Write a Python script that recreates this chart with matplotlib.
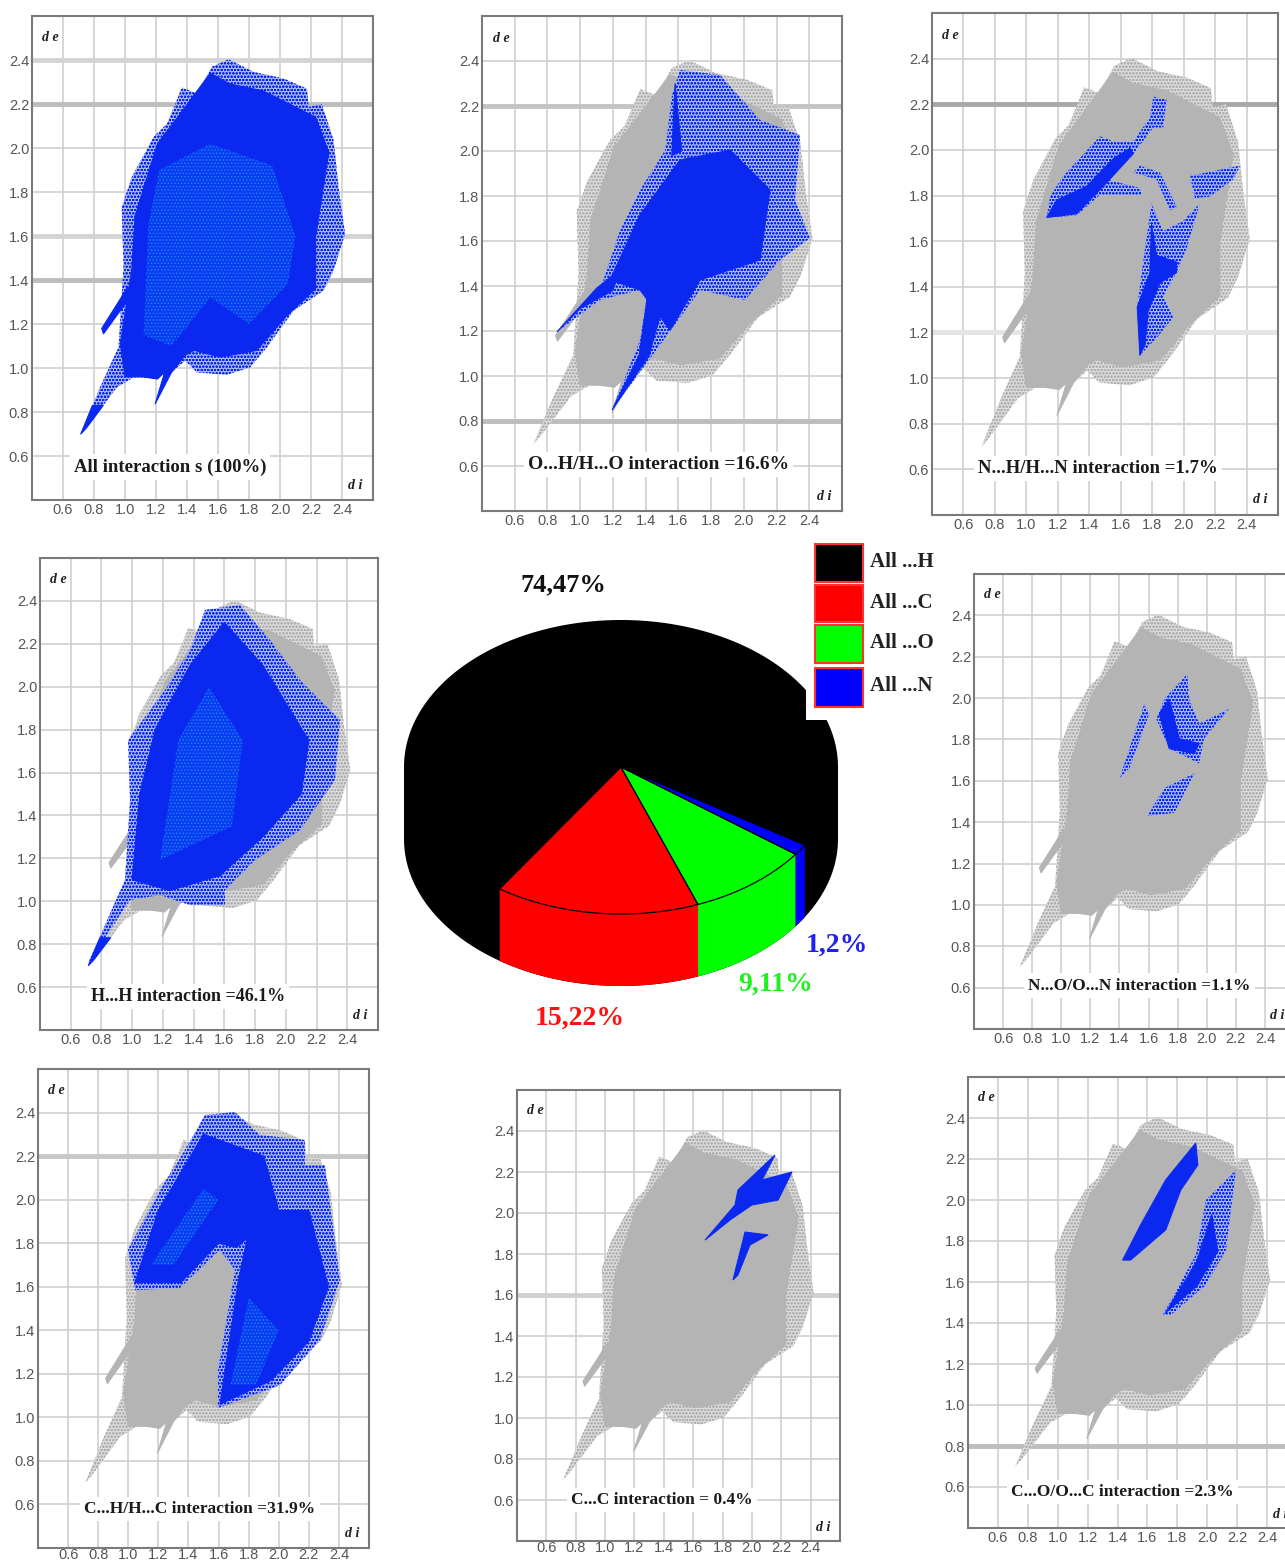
import numpy as np
import matplotlib
matplotlib.use('Agg')
import matplotlib.pyplot as plt
from matplotlib.patches import Polygon, Rectangle

plt.rcParams['hatch.linewidth'] = 0.6
NARROW = ['Liberation Sans Narrow', 'Liberation Sans', 'DejaVu Sans']
SERIF = ['Liberation Serif', 'DejaVu Serif']

W, H = 1285, 1560

TICKS = [0.6, 0.8, 1.0, 1.2, 1.4, 1.6, 1.8, 2.0, 2.2, 2.4]
TICK_LABELS = ['0.6', '0.8', '1.0', '1.2', '1.4', '1.6', '1.8', '2.0', '2.2', '2.4']

# outline of the whole fingerprint (di, de)
SILHOUETTE = [
  (0.714, 0.699), (0.839, 0.912), (0.958, 1.094), (0.99, 1.458), (0.979, 1.732), (1.044, 1.868),
  (1.184, 2.05), (1.27, 2.11), (1.334, 2.217), (1.367, 2.275), (1.464, 2.248), (1.56, 2.369),
  (1.668, 2.403), (1.83, 2.346), (2.023, 2.316), (2.174, 2.27), (2.185, 2.187), (2.27, 2.2),
  (2.346, 2.035), (2.378, 1.822), (2.42, 1.61), (2.346, 1.443), (2.282, 1.352), (2.088, 1.261),
  (1.916, 1.094), (1.808, 1.003), (1.657, 0.969), (1.464, 0.98), (1.388, 1.033), (1.313, 0.988),
  (1.205, 0.957), (1.054, 0.957), (0.947, 0.912), (0.753, 0.729),
]
SILHOUETTE_CORE = [
  (0.97, 1.11), (1.044, 1.447), (1.065, 1.69), (1.21, 2.02), (1.34, 2.14), (1.55, 2.34),
  (1.68, 2.29), (1.89, 2.26), (2.23, 2.14), (2.315, 1.98), (2.23, 1.6), (2.23, 1.36),
  (2.04, 1.235), (1.85, 1.08), (1.616, 1.05), (1.447, 1.08), (1.34, 1.04), (1.21, 0.95),
  (1.11, 0.96), (1.0, 0.96),
]
SPIKE_LEFT = [(1.02, 1.37), (0.85, 1.18), (0.861, 1.155), (1.0, 1.29), (1.04, 1.3)]
SPIKE_LOW = [(1.194, 0.836), (1.3, 0.98), (1.39, 1.06), (1.34, 1.06), (1.26, 0.99)]
TIP = [(0.714, 0.699), (0.79, 0.83), (0.86, 0.83), (0.753, 0.729)]
ALL_BRIGHT = [
  (1.12, 1.15), (1.15, 1.65), (1.22, 1.9), (1.55, 2.02), (1.95, 1.92), (2.1, 1.6), (2.05, 1.38),
  (1.8, 1.2), (1.55, 1.32), (1.3, 1.1),
]

OH_OUTER = [
  (0.858, 1.196), (1.121, 1.382), (1.244, 1.649), (1.366, 1.827), (1.519, 2.004), (1.561, 2.249),
  (1.61, 2.36), (1.855, 2.338), (2.099, 2.138), (2.344, 2.071), (2.313, 1.782), (2.405, 1.613),
  (2.222, 1.516), (2.008, 1.338), (1.733, 1.382), (1.488, 1.138), (1.195, 0.849), (1.366, 1.16),
  (1.415, 1.391), (1.121, 1.338),
]
OH_CORE = [
  (1.182, 1.427), (1.366, 1.716), (1.61, 1.96), (1.916, 2.004), (2.16, 1.827), (2.099, 1.516),
  (1.733, 1.427), (1.549, 1.204), (1.366, 1.382),
]
OH_SPIKE_A = [(0.858, 1.196), (1.1, 1.39), (1.24, 1.47), (1.2, 1.38), (1.0, 1.3)]
OH_SPIKE_B = [(1.195, 0.849), (1.36, 1.09), (1.42, 1.4), (1.52, 1.35), (1.42, 1.09)]
OH_SPIKE_C = [(1.56, 1.98), (1.58, 2.3), (1.62, 2.0)]

NH_UPPER = [
  (1.129, 1.704), (1.15, 1.795), (1.235, 1.886), (1.468, 2.06), (1.553, 2.037), (1.68, 2.037),
  (1.786, 2.143), (1.807, 2.234), (1.892, 2.219), (1.87, 2.098), (1.807, 2.098), (1.658, 1.962),
  (1.51, 1.871), (1.722, 1.833), (1.733, 1.803), (1.468, 1.803), (1.319, 1.712),
]
NH_LOWER = [
  (1.722, 1.099), (1.705, 1.311), (1.754, 1.568), (1.796, 1.765), (1.87, 1.644), (1.997, 1.689),
  (2.103, 1.765), (2.019, 1.568), (1.955, 1.462), (1.87, 1.356), (1.934, 1.266), (1.828, 1.175),
  (1.764, 1.13),
]
NH_RIGHT = [(2.04, 1.886), (2.358, 1.931), (2.315, 1.871), (2.167, 1.795), (2.072, 1.788)]
NH_ARC = [(1.722, 1.931), (1.849, 1.901), (1.955, 1.75), (1.913, 1.735), (1.828, 1.871), (1.68, 1.901)]
NH_UPPER_CORE = [
  (1.129, 1.704), (1.193, 1.78), (1.383, 1.84), (1.553, 1.962), (1.658, 2.007), (1.68, 1.984),
  (1.51, 1.856), (1.319, 1.72),
]
NH_LOWER_CORE = [
  (1.722, 1.099), (1.705, 1.311), (1.786, 1.462), (1.796, 1.674), (1.828, 1.538), (1.955, 1.508),
  (1.955, 1.462), (1.849, 1.417), (1.775, 1.296), (1.754, 1.145),
]

HH_OUTER = [
  (0.713, 0.712), (0.953, 1.099), (0.986, 1.472), (0.973, 1.752), (1.214, 1.985), (1.377, 2.171),
  (1.474, 2.358), (1.702, 2.381), (1.897, 2.218), (2.093, 2.031), (2.353, 1.845), (2.32, 1.565),
  (2.093, 1.332), (1.8, 1.192), (1.604, 1.052), (1.604, 0.982), (1.377, 0.982), (1.181, 1.029),
  (0.986, 1.006),
]
HH_CORE = [
  (1.0, 1.1), (1.05, 1.5), (1.15, 1.8), (1.377, 2.1), (1.6, 2.3), (1.85, 2.1), (2.15, 1.75),
  (2.1, 1.5), (1.85, 1.3), (1.572, 1.12), (1.246, 1.05),
]
HH_BRIGHT = [(1.181, 1.192), (1.3, 1.75), (1.5, 2.0), (1.72, 1.75), (1.65, 1.35)]

NO_LEFT = [(1.4, 1.612), (1.571, 1.972), (1.605, 1.924), (1.468, 1.66)]
NO_CENTER = [
  (1.653, 1.9), (1.708, 1.996), (1.866, 2.116), (1.879, 1.996), (1.948, 1.876), (2.153, 1.948),
  (1.982, 1.804), (1.948, 1.684), (1.742, 1.756),
]
NO_LOWER = [(1.592, 1.43), (1.708, 1.565), (1.914, 1.636), (1.777, 1.445)]
NO_CORE = [(1.674, 1.924), (1.742, 1.996), (1.811, 1.804), (1.948, 1.78), (1.914, 1.732), (1.742, 1.756)]

CH_OUTER = [
  (0.998, 1.769), (1.211, 2.044), (1.377, 2.228), (1.51, 2.389), (1.709, 2.402), (1.875, 2.297),
  (2.174, 2.274), (2.174, 2.159), (2.307, 2.159), (2.407, 1.631), (2.274, 1.355), (2.008, 1.148),
  (1.596, 1.043), (1.596, 1.217), (1.709, 1.677), (1.609, 1.769), (1.343, 1.594), (1.045, 1.585),
]
CH_CORE_UP = [(1.045, 1.62), (1.2, 1.95), (1.5, 2.3), (1.9, 2.2), (2.0, 1.95), (1.72, 1.78), (1.6, 1.8), (1.35, 1.62)]
CH_CORE_LOW = [(1.61, 1.06), (1.73, 1.62), (1.83, 1.95), (2.2, 1.95), (2.33, 1.6), (2.2, 1.35), (1.95, 1.17)]
CH_BRIGHT_UP = [(1.15, 1.7), (1.5, 2.05), (1.6, 2.0), (1.3, 1.7)]
CH_BRIGHT_LOW = [(1.68, 1.15), (1.8, 1.55), (2.0, 1.4), (1.85, 1.15)]

CC_A = [
  (1.681, 1.868), (1.885, 2.039), (1.905, 2.112), (2.157, 2.283), (2.069, 2.161), (2.273, 2.2),
  (2.178, 2.063), (2.0, 2.039), (1.851, 1.966),
]
CC_B = [(1.871, 1.673), (1.953, 1.907), (2.11, 1.893), (1.987, 1.844), (1.905, 1.698)]

CO_A = [(1.434, 1.707), (1.554, 1.878), (1.722, 2.098), (1.923, 2.278), (1.937, 2.171), (1.823, 2.049), (1.722, 1.854), (1.487, 1.707)]
CO_B = [(1.702, 1.439), (1.923, 1.732), (1.991, 2.0), (2.192, 2.146), (2.125, 1.756), (1.991, 1.585), (1.756, 1.439)]
CO_B_CORE = [(1.72, 1.45), (1.93, 1.7), (2.03, 1.93), (2.07, 1.75), (1.93, 1.58)]

# pie chart values
PIE_NAMES = ['All ...H', 'All ...C', 'All ...O', 'All ...N']
PIE_VALUES = [74.47, 15.22, 9.11, 1.2]
PIE_COLORS = ['#000000', '#ff0000', '#00ff00', '#0000ff']


def axes_px(left, top, right, bottom):
  return fig.add_axes([left / W, 1 - bottom / H, (right - left) / W, (bottom - top) / H])


def loose(ax, pts, col='#0a28f0'):
  # the open speckled part of a cloud
  ax.add_patch(Polygon(pts, closed=True, facecolor='#aab8f8', edgecolor=col, hatch='ooooo', lw=0, zorder=3))


def solid(ax, pts, col='#0a28f0'):
  ax.add_patch(Polygon(pts, closed=True, facecolor=col, edgecolor=col, lw=0.8, zorder=4))


def bright(ax, pts):
  ax.add_patch(Polygon(pts, closed=True, facecolor='#0a3cf2', edgecolor='#1a88f6', hatch='.....', lw=0, zorder=5))


def panel(box, caption, cap_xy, cap_size, thick=(), gray=True, pad=2):
  ax = axes_px(*box)
  ax.set_xlim(0.4, 2.6)
  ax.set_ylim(0.4, 2.6)
  ax.set_xticks(TICKS, TICK_LABELS)
  ax.set_yticks(TICKS, TICK_LABELS)
  ax.tick_params(length=0, labelsize=10.5, labelcolor='#555555', pad=2)
  ax.tick_params(axis='x', pad=pad)
  for lab in ax.get_xticklabels() + ax.get_yticklabels():
    lab.set_family(NARROW)
  ax.grid(color='#cfcfcf', lw=1.2, zorder=1)
  ax.set_axisbelow(True)
  for spine in ax.spines.values():
    spine.set_color('#7a7a7a')
    spine.set_linewidth(1.5)
  for val, col in thick:
    ax.axhline(val, color=col, lw=3.5, zorder=1.5)
  if gray:
    ax.add_patch(Polygon(SILHOUETTE, closed=True, facecolor='#dcdcdc', edgecolor='#b0b0b0', hatch='ooooo', lw=0, zorder=2))
    for pts in [SILHOUETTE_CORE, SPIKE_LEFT, SPIKE_LOW]:
      ax.add_patch(Polygon(pts, closed=True, facecolor='#b4b4b4', edgecolor='#b4b4b4', lw=0.8, zorder=2.5))
  ax.text(cap_xy[0], cap_xy[1], caption, ha='center', va='center', fontsize=cap_size, family=SERIF,
          weight='bold', color='#1a1a1a', zorder=8,
          bbox=dict(facecolor='white', edgecolor='none', pad=3))
  ax.text(0.03, 0.955, 'd e', transform=ax.transAxes, fontsize=10, family=SERIF, style='italic',
          weight='bold', color='#222222', va='center')
  ax.text(0.97, 0.03, 'd i', transform=ax.transAxes, fontsize=10, family=SERIF, style='italic',
          weight='bold', color='#222222', ha='right', va='center')
  return ax


fig = plt.figure(figsize=(W / 100, H / 100), dpi=100)

ax = panel((32, 16, 373, 500), 'All interaction s (100%)', (1.29, 0.55), 13.5,
           thick=[(2.4, '#d4d4d4'), (2.2, '#bdbdbd'), (1.6, '#d4d4d4'), (1.4, '#bdbdbd')], gray=False)
loose(ax, SILHOUETTE)
solid(ax, SILHOUETTE_CORE)
solid(ax, SPIKE_LEFT)
solid(ax, SPIKE_LOW)
solid(ax, TIP)
bright(ax, ALL_BRIGHT)

ax = panel((482, 16, 842, 511), 'O...H/H...O interaction =16.6%', (1.48, 0.605), 14,
           thick=[(2.2, '#c4c4c4'), (0.8, '#bdbdbd')])
loose(ax, OH_OUTER)
solid(ax, OH_CORE)
for pts in [OH_SPIKE_A, OH_SPIKE_B, OH_SPIKE_C]:
  solid(ax, pts)

ax = panel((932, 13, 1278, 515), 'N...H/H...N interaction =1.7%', (1.457, 0.604), 13.5,
           thick=[(2.2, '#a8a8a8'), (1.2, '#e4e4e4')])
for pts in [NH_UPPER, NH_LOWER, NH_RIGHT, NH_ARC]:
  loose(ax, pts)
solid(ax, NH_UPPER_CORE)
solid(ax, NH_LOWER_CORE)

ax = panel((40, 558, 378, 1030), 'H...H interaction =46.1%', (1.364, 0.555), 13)
loose(ax, HH_OUTER)
solid(ax, HH_CORE)
solid(ax, TIP)
bright(ax, HH_BRIGHT)

ax = panel((974, 574, 1294, 1029), 'N...O/O...N interaction =1.1%', (1.537, 0.61), 12.5)
for pts in [NO_LEFT, NO_CENTER, NO_LOWER]:
  loose(ax, pts)
solid(ax, NO_CORE)

ax = panel((38, 1069, 369, 1548), 'C...H/H...C interaction =31.9%', (1.476, 0.58), 12.5,
           thick=[(2.2, '#c8c8c8')], pad=0)
loose(ax, CH_OUTER)
solid(ax, CH_CORE_UP)
solid(ax, CH_CORE_LOW)
bright(ax, CH_BRIGHT_UP)
bright(ax, CH_BRIGHT_LOW)

ax = panel((517, 1090, 840, 1541), 'C...C interaction = 0.4%', (1.388, 0.6), 12.5,
           thick=[(1.6, '#d0d0d0')], pad=0)
solid(ax, CC_A)
solid(ax, CC_B)

ax = panel((968, 1077, 1297, 1528), 'C...O/O...C interaction =2.3%', (1.434, 0.575), 12.5,
           thick=[(0.8, '#bdbdbd')])
solid(ax, CO_A)
loose(ax, CO_B)
solid(ax, CO_B_CORE)

# centre pie, drawn in picture pixels
pie = fig.add_axes([0, 0, 1, 1], facecolor='none')
pie.set_xlim(0, W)
pie.set_ylim(H, 0)
pie.axis('off')

CX, CY, RX, RY, DEPTH = 621, 767, 217, 147, 72


def rim(t):
  # t in degrees, 0 at the front of the ellipse, growing to the right
  t = np.radians(t)
  return CX + RX * np.sin(t), CY + RY * np.cos(t)


x0, y0 = rim(np.linspace(0, 360, 361))
pie.add_patch(Polygon(np.c_[x0, y0], closed=True, facecolor='black', lw=0, zorder=10))
pie.add_patch(Polygon(np.c_[x0, y0 + DEPTH], closed=True, facecolor='black', lw=0, zorder=10))
pie.add_patch(Rectangle((CX - RX, CY), 2 * RX, DEPTH, facecolor='black', lw=0, zorder=10))

start = -34.0
for val, col in zip(PIE_VALUES[1:], PIE_COLORS[1:]):
  stop = start + val * 3.6
  ts = np.linspace(start, stop, 40)
  xs, ys = rim(ts)
  # side wall
  pie.add_patch(Polygon(np.r_[np.c_[xs, ys], np.c_[xs[::-1], ys[::-1] + DEPTH]], closed=True,
                        facecolor=col, lw=0, zorder=11))
  # top face
  pie.add_patch(Polygon(np.r_[[[CX, CY]], np.c_[xs, ys]], closed=True, facecolor=col,
                        edgecolor='black', lw=0.9, zorder=12))
  start = stop

# legend sits on a white block that cuts the pie corner
pie.add_patch(Rectangle((806, 535), 140, 185, facecolor='white', lw=0, zorder=13))
SWATCH_TOPS = [544, 585, 625, 668]
SWATCH_HEIGHTS = [38, 37, 38, 39]
for top, hgt, name, col in zip(SWATCH_TOPS, SWATCH_HEIGHTS, PIE_NAMES, PIE_COLORS):
  pie.add_patch(Rectangle((815, top), 48, hgt, facecolor=col, edgecolor='#ff3030', lw=1.5, zorder=14))
  pie.text(870, top + 18, name, fontsize=15, family=SERIF, weight='bold', color='#222222', va='center', zorder=14)

pie.text(563, 585, '74,47%', fontsize=19, family=SERIF, weight='bold', color='#111111', ha='center', va='center', zorder=14)
pie.text(580, 1018, '15,22%', fontsize=20, family=SERIF, weight='bold', color='#ff1010', ha='center', va='center', zorder=14)
pie.text(776, 984, '9,11%', fontsize=20, family=SERIF, weight='bold', color='#20f020', ha='center', va='center', zorder=14)
pie.text(837, 945, '1,2%', fontsize=20, family=SERIF, weight='bold', color='#2020f0', ha='center', va='center', zorder=14)

fig.savefig('out.png', dpi=100)
